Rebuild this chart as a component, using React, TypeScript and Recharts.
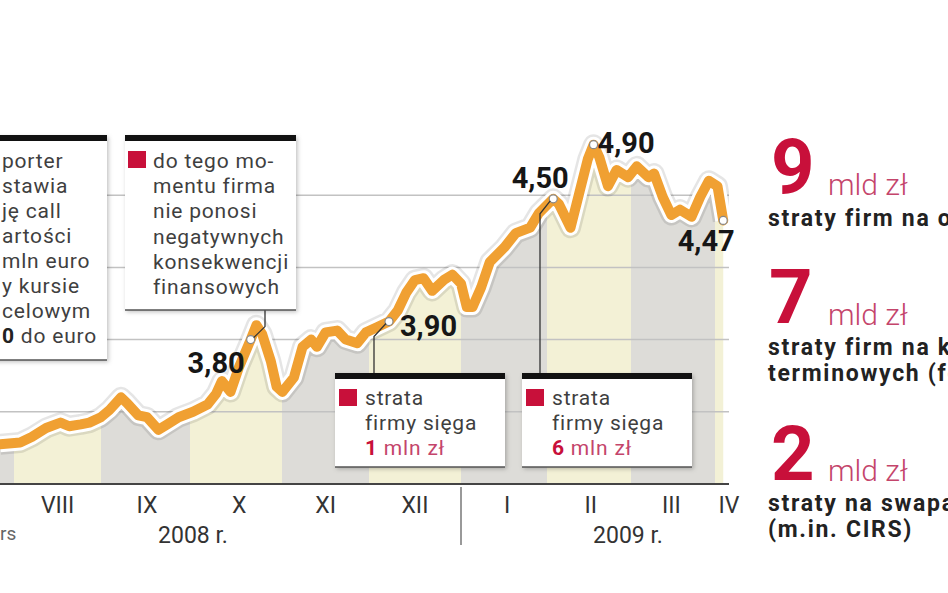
import React from "react";
import {
  ComposedChart,
  Area,
  Line,
  XAxis,
  YAxis,
  ReferenceLine,
  ReferenceDot,
} from "recharts";

// days counted from 1 Aug 2008, EUR/PLN rate
const days = [
  -5, 2, 6, 11, 16, 19, 23, 26, 30, 33, 37, 39, 43, 46, 50, 53, 57, 62, 67, 70,
  72, 75, 78, 82, 84, 86, 89, 91, 93, 97, 100, 103, 105, 108, 112, 115, 119, 122, 126, 130,
  133, 136, 139, 142, 145, 149, 152, 155, 157, 159, 162, 165, 170, 174, 179, 182, 187, 189, 193, 196,
  199, 201, 203, 206, 209, 213, 216, 220, 222, 225, 228, 231, 235, 238, 241, 244, 246,
];
const rates = [
  3.22, 3.23, 3.26, 3.31, 3.34, 3.32, 3.33, 3.34, 3.37, 3.41, 3.48, 3.45, 3.38, 3.37, 3.3, 3.33, 3.37, 3.4, 3.44, 3.5,
  3.57, 3.51, 3.65, 3.8, 3.88, 3.83, 3.68, 3.54, 3.51, 3.59, 3.76, 3.8, 3.76, 3.84, 3.85, 3.8, 3.78, 3.84, 3.87, 3.9,
  3.96, 4.06, 4.13, 4.14, 4.07, 4.13, 4.16, 4.11, 3.98, 3.98, 4.09, 4.23, 4.31, 4.39, 4.42, 4.5, 4.58, 4.55, 4.42, 4.61,
  4.8, 4.88, 4.81, 4.65, 4.74, 4.7, 4.76, 4.7, 4.72, 4.59, 4.49, 4.52, 4.48, 4.59, 4.68, 4.65, 4.46,
];

const monthStarts = [0, 30, 61, 93, 123, 155, 185, 214, 243];
const monthTickDays = [15, 46, 78, 108, 139, 171, 200, 228, 248];
const monthLabels = ["VIII", "IX", "X", "XI", "XII", "I", "II", "III", "IV"];
const gridValues = [3.4, 3.8, 4.2, 4.6];

const calloutDays = [82, 130, 187, 201, 246];
const calloutTexts = ["3,80", "3,90", "4,50", "4,90", "4,47"];

const data = days.map((d, i) => ({ day: d, rate: rates[i] }));

const W = 948;
const H = 593;
const X_MIN = -5;
const X_MAX = 248;
const Y_MIN = 3;
const Y_MAX = 5;
const M = { top: 123, right: 219, bottom: 79, left: 0 };
const AXIS_H = 30;
const PLOT_W = W - M.left - M.right;
const PLOT_H = H - M.top - M.bottom - AXIS_H;

const px = (d: number) => M.left + ((d - X_MIN) / (X_MAX - X_MIN)) * PLOT_W;
const py = (v: number) => M.top + ((Y_MAX - v) / (Y_MAX - Y_MIN)) * PLOT_H;
const rateAt = (d: number) => rates[days.indexOf(d)];

const FONT = "Roboto, 'DejaVu Sans', sans-serif";
const CRIMSON = "#c8103a";
const PINK = "#c4456b";
const TEXT = "#3f3f3f";
const ORANGE = "#f0a032";

// label placement per callout (dx, dy, anchor)
const calloutPos = [
  { dx: -6, dy: 33, anchor: "end" },
  { dx: 11, dy: 14, anchor: "start" },
  { dx: -13, dy: -11, anchor: "middle" },
  { dx: 4, dy: 8, anchor: "start" },
  { dx: -17, dy: 31, anchor: "middle" },
];

function CalloutLabel(props: any) {
  const { viewBox, txt, offX, offY, anchor } = props;
  if (!viewBox) return null;
  const cx = viewBox.x + viewBox.width / 2;
  const cy = viewBox.y + viewBox.height / 2;
  return (
    <text
      x={cx + offX}
      y={cy + offY}
      textAnchor={anchor}
      fontFamily={FONT}
      fontWeight={700}
      fontSize={29}
      fill="#161616"
    >
      {txt}
    </text>
  );
}

function MonthTick(props: any) {
  const { x, payload } = props;
  const i = monthTickDays.indexOf(payload.value);
  return (
    <text x={x} y={513} textAnchor="middle" fontFamily={FONT} fontSize={23} fill="#333">
      {monthLabels[i]}
    </text>
  );
}

function Box({ x, y, w, h }: { x: number; y: number; w: number; h: number }) {
  return (
    <g>
      <rect x={x} y={y} width={w} height={h} fill="#fff" filter="url(#boxShadow)" />
      <rect x={x} y={y} width={w} height={6} fill="#111" />
      <line x1={x} x2={x + w} y1={y + h} y2={y + h} stroke="#555" strokeWidth={1.5} />
    </g>
  );
}

function Overlay() {
  const p1 = { x: px(82), y: py(rateAt(82)) };
  const p2 = { x: px(130), y: py(rateAt(130)) };
  const p3 = { x: px(187), y: py(rateAt(187)) };
  const t = { fontFamily: FONT, fontSize: 21, fill: TEXT, letterSpacing: 0.8 };
  const cap = { fontFamily: FONT, fontWeight: 700, fontSize: 23, fill: "#222", letterSpacing: 1.7 };
  const big = { fontFamily: FONT, fontWeight: 700, fontSize: 76, fill: CRIMSON };
  const unit = { fontFamily: FONT, fontWeight: 300, fontSize: 30, fill: PINK };
  const boxLines1 = ["porter", "stawia", "ję call", "artości", "mln euro", "y kursie", "celowym"];
  const boxLines2 = ["do tego mo-", "mentu firma", "nie ponosi", "negatywnych", "konsekwencji", "finansowych"];
  return (
    <svg
      width={W}
      height={H}
      style={{ position: "absolute", left: 0, top: 0, pointerEvents: "none" }}
    >
      <defs>
        <filter id="boxShadow" x="-10%" y="-10%" width="130%" height="130%">
          <feDropShadow dx="1.5" dy="2" stdDeviation="2" floodOpacity="0.25" />
        </filter>
      </defs>

      {/* connectors */}
      <polyline
        points={`265,310 265,${p1.y - 13} ${p1.x + 3},${p1.y - 2}`}
        fill="none"
        stroke="#333"
        strokeWidth={1.3}
      />
      <polyline
        points={`374,373 374,${p2.y + 15} ${p2.x - 3},${p2.y + 2}`}
        fill="none"
        stroke="#333"
        strokeWidth={1.3}
      />
      <polyline
        points={`540,373 540,${p3.y + 15} ${p3.x - 3},${p3.y + 2}`}
        fill="none"
        stroke="#333"
        strokeWidth={1.3}
      />

      {/* boxes */}
      <Box x={-10} y={135} w={117} h={225} />
      {boxLines1.map((s, i) => (
        <text key={s} x={2} y={168 + i * 25} {...t}>
          {s}
        </text>
      ))}
      <text x={2} y={343} {...t}>
        <tspan fontWeight={700} fill="#222">0</tspan> do euro
      </text>

      <Box x={125} y={135} w={171} h={175} />
      <rect x={128} y={151} width={18} height={17} fill={CRIMSON} />
      {boxLines2.map((s, i) => (
        <text key={s} x={153} y={168 + i * 25.2} {...t}>
          {s}
        </text>
      ))}

      <Box x={335} y={373} w={170} h={94} />
      <rect x={339} y={389} width={18} height={17} fill={CRIMSON} />
      <text x={365} y={405} {...t}>strata</text>
      <text x={365} y={430} {...t}>firmy sięga</text>
      <text x={365} y={455} {...t}>
        <tspan fontWeight={700} fill={CRIMSON}>1</tspan>
        <tspan fill={PINK}> mln zł</tspan>
      </text>

      <Box x={522} y={373} w={170} h={94} />
      <rect x={526} y={389} width={18} height={17} fill={CRIMSON} />
      <text x={552} y={405} {...t}>strata</text>
      <text x={552} y={430} {...t}>firmy sięga</text>
      <text x={552} y={455} {...t}>
        <tspan fontWeight={700} fill={CRIMSON}>6</tspan>
        <tspan fill={PINK}> mln zł</tspan>
      </text>

      {/* axis extras */}
      <line x1={461} x2={461} y1={487} y2={545} stroke="#999" strokeWidth={2} />
      <text x={193} y={543} textAnchor="middle" fontFamily={FONT} fontSize={23} fill="#333">
        2008 r.
      </text>
      <text x={628} y={543} textAnchor="middle" fontFamily={FONT} fontSize={23} fill="#333">
        2009 r.
      </text>
      <text x={0} y={540} fontFamily={FONT} fontSize={19} fill="#666">
        rs
      </text>

      {/* right side facts */}
      <text x={771} y={193} {...big}>9</text>
      <text x={828} y={195} {...unit}>mld zł</text>
      <text x={768} y={226} {...cap}>straty firm na opcjach</text>

      <text x={769} y={323} {...big}>7</text>
      <text x={828} y={325} {...unit}>mld zł</text>
      <text x={768} y={355} {...cap}>straty firm na kontraktach</text>
      <text x={768} y={381} {...cap}>terminowych (forward)</text>

      <text x={771} y={480} {...big}>2</text>
      <text x={828} y={481} {...unit}>mld zł</text>
      <text x={768} y={511} {...cap}>straty na swapach</text>
      <text x={768} y={537} {...cap}>(m.in. CIRS)</text>
    </svg>
  );
}

export default function App() {
  const bounds = [X_MIN, ...monthStarts, X_MAX];
  const stops: React.ReactNode[] = [];
  for (let i = 0; i < bounds.length - 1; i++) {
    const color = i % 2 === 0 ? "#dddcd8" : "#f3f1d6";
    const a = (bounds[i] - X_MIN) / (X_MAX - X_MIN);
    const b = (bounds[i + 1] - X_MIN) / (X_MAX - X_MIN);
    stops.push(<stop key={`a${i}`} offset={a} stopColor={color} />);
    stops.push(<stop key={`b${i}`} offset={b} stopColor={color} />);
  }

  return (
    <div
      style={{
        position: "absolute",
        left: 0,
        top: 0,
        width: W,
        height: H,
        background: "#fff",
        overflow: "hidden",
      }}
    >
      <ComposedChart width={W} height={H} data={data} margin={M}>
        <defs>
          <linearGradient
            id="bands"
            gradientUnits="userSpaceOnUse"
            x1={M.left}
            x2={M.left + PLOT_W}
            y1={0}
            y2={0}
          >
            {stops}
          </linearGradient>
        </defs>
        <XAxis
          type="number"
          dataKey="day"
          domain={[X_MIN, X_MAX]}
          ticks={monthTickDays}
          interval={0}
          tick={(p: any) => <MonthTick {...p} />}
          tickLine={false}
          axisLine={{ stroke: "#444", strokeWidth: 2 }}
          height={AXIS_H}
          allowDataOverflow
        />
        <YAxis hide domain={[Y_MIN, Y_MAX]} type="number" allowDataOverflow />
        <Area
          dataKey="rate"
          type="linear"
          fill="url(#bands)"
          fillOpacity={1}
          stroke="none"
          isAnimationActive={false}
        />
        {gridValues.map((v) => (
          <ReferenceLine key={v} y={v} stroke="#c2c2c2" strokeWidth={1.5} />
        ))}
        <Line
          dataKey="rate"
          type="linear"
          stroke="rgba(0,0,0,0.10)"
          strokeWidth={21}
          strokeLinejoin="round"
          dot={false}
          activeDot={false}
          isAnimationActive={false}
        />
        <Line
          dataKey="rate"
          type="linear"
          stroke="#ffffff"
          strokeWidth={16}
          strokeLinejoin="round"
          dot={false}
          activeDot={false}
          isAnimationActive={false}
        />
        <Line
          dataKey="rate"
          type="linear"
          stroke={ORANGE}
          strokeWidth={10}
          strokeLinejoin="round"
          strokeLinecap="round"
          dot={false}
          activeDot={false}
          isAnimationActive={false}
        />
        {calloutDays.map((d, i) => (
          <ReferenceDot
            key={d}
            x={d}
            y={rateAt(d)}
            r={4}
            fill="#fff"
            stroke="#888"
            strokeWidth={1.2}
            label={
              <CalloutLabel
                txt={calloutTexts[i]}
                offX={calloutPos[i].dx}
                offY={calloutPos[i].dy}
                anchor={calloutPos[i].anchor}
              />
            }
          />
        ))}
      </ComposedChart>
      <Overlay />
    </div>
  );
}
